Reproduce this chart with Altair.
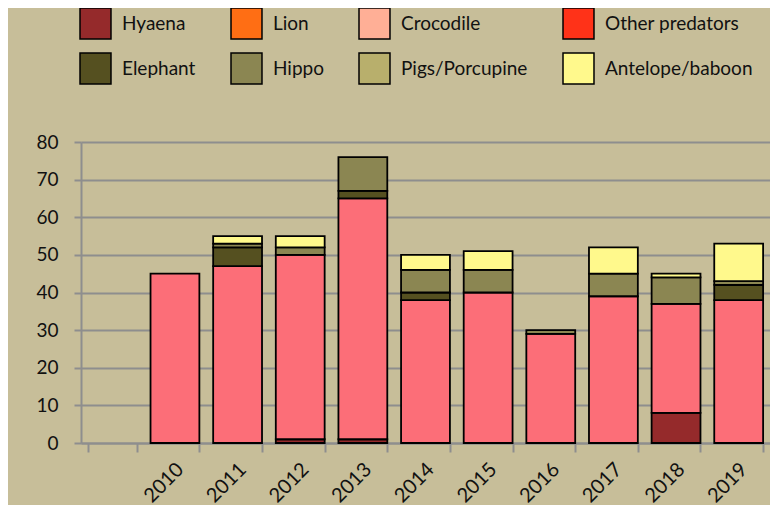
import altair as alt
import pandas as pd

years = ["2010", "2011", "2012", "2013", "2014", "2015", "2016", "2017", "2018", "2019"]
slots = [" "] + years  # first category slot is empty in the original

series_names = ["Hyaena", "Lion", "Crocodile", "Other predators", "Other",
                "Elephant", "Hippo", "Pigs/Porcupine", "Antelope/baboon"]
legend_names = ["Hyaena", "Lion", "Crocodile", "Other predators",
                "Elephant", "Hippo", "Pigs/Porcupine", "Antelope/baboon"]
series_colors = ["#952A2B", "#FF6E14", "#FFAF96", "#FF3218", "#FC6E78",
                 "#555020", "#8B8652", "#B8AF6C", "#FFF98C"]

hyaena = [0, 0, 1, 1, 0, 0, 0, 0, 8, 0]
lion = [0, 0, 0, 0, 0, 0, 0, 0, 0, 0]
crocodile = [0, 0, 0, 0, 0, 0, 0, 0, 0, 0]
other_predators = [0, 0, 0, 0, 0, 0, 0, 0, 0, 0]
other = [45, 47, 49, 64, 38, 40, 29, 39, 29, 38]
elephant = [0, 5, 0, 2, 2, 0, 0, 0, 0, 4]
hippo = [0, 1, 2, 9, 6, 6, 1, 6, 7, 1]
pigs_porcupine = [0, 0, 0, 0, 0, 0, 0, 0, 0, 0]
antelope_baboon = [0, 2, 3, 0, 4, 5, 0, 7, 1, 10]

series_values = [hyaena, lion, crocodile, other_predators, other,
                 elephant, hippo, pigs_porcupine, antelope_baboon]

rows = []
for order, (name, vals) in enumerate(zip(series_names, series_values)):
    for yr, v in zip(years, vals):
        if v > 0:
            rows.append({"year": yr, "series": name, "value": v, "order": order})
df = pd.DataFrame(rows)

FONT = "Lato"
GRAY = "#8E8E8E"

chart = alt.Chart(df).mark_bar(stroke="black", strokeWidth=1.8).encode(
    x=alt.X("year:N",
            scale=alt.Scale(domain=slots, paddingInner=0.22, paddingOuter=0.11),
            axis=alt.Axis(title=None, labelAngle=-45, labelFontSize=20, labelFont=FONT,
                          labelColor="#111", domainColor=GRAY, domainWidth=2,
                          tickColor=GRAY, tickWidth=2, tickSize=9, tickBand="extent",
                          labelAlign="right", labelBaseline="top", labelPadding=7,
                          labelOffset=-2)),
    y=alt.Y("value:Q", stack="zero",
            scale=alt.Scale(domain=[0, 80], nice=False),
            axis=alt.Axis(title=None, values=[0, 10, 20, 30, 40, 50, 60, 70, 80],
                          labelFontSize=19, labelFont=FONT, labelColor="#111",
                          labelPadding=16, domainColor=GRAY, domainWidth=2,
                          tickColor=GRAY, tickWidth=2, tickSize=7,
                          gridColor=GRAY, gridWidth=2)),
    color=alt.Color("series:N",
                    scale=alt.Scale(domain=series_names, range=series_colors),
                    legend=alt.Legend(title=None, values=legend_names, orient="none",
                                      legendX=-2, legendY=-135, direction="horizontal",
                                      columns=4, symbolType="square", symbolSize=960,
                                      symbolStrokeColor="black", symbolStrokeWidth=1.5,
                                      symbolOpacity=1, labelFontSize=19, labelFont=FONT,
                                      labelColor="#111", labelOffset=10, rowPadding=8,
                                      columnPadding=32, gridAlign="each")),
    order=alt.Order("order:Q"),
).properties(
    width=689,
    height=301,
    background="#C7BE99",
    autosize=alt.AutoSizeParams(type="none"),
    padding={"left": 73, "top": 134, "right": 0, "bottom": 62},
).configure_view(stroke=None)

chart.save("out.html", embed_options={"renderer": "svg", "actions": False})
